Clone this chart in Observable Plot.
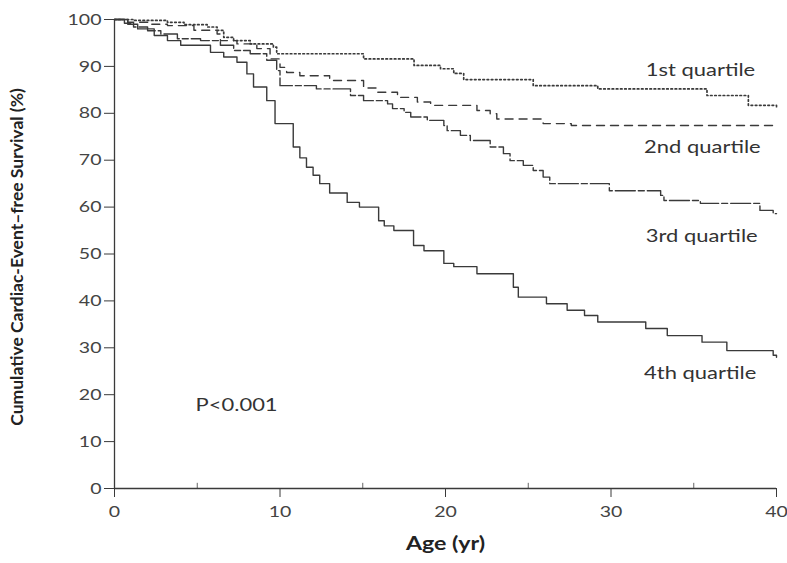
<!DOCTYPE html>
<html>
<head>
<meta charset="utf-8">
<script src="https://cdn.jsdelivr.net/npm/d3@7"></script>
<script src="https://cdn.jsdelivr.net/npm/@observablehq/plot@0.6"></script>
<style>
  html, body { margin: 0; padding: 0; background: #fff; }
  #chart svg { font-family: Lato, "Open Sans", sans-serif; }
</style>
</head>
<body>
<div id="chart"></div>
<script>
// Kaplan–Meier step points: [age (yr), cumulative survival (%)]
const q1 = [[0,100],[1.15,99.8],[3.2,99.4],[4.2,98.9],[5.6,98.4],[6.2,97.7],[6.6,96.2],[7.2,95.5],[8.2,94.8],[9.6,94.1],[9.8,92.7],[15.05,91.6],[18.1,90.2],[19.7,89.5],[20.5,88.5],[21.1,87.2],[25.3,85.9],[29.2,85.2],[35.8,83.8],[38.3,81.7],[40,81.4]];
const q2 = [[0,100],[0.8,99.4],[2.0,99.0],[3.2,98.7],[4.8,97.7],[6.2,96.9],[6.4,95.5],[7.4,94.8],[8.6,93.8],[9.4,91.6],[10.0,89.8],[10.4,88.7],[11.2,88.0],[13.0,87.0],[15.05,85.4],[15.8,84.5],[17.1,83.4],[18.3,82.4],[19.1,81.7],[21.9,80.6],[22.7,79.9],[23.1,78.8],[25.9,77.8],[27.6,77.4],[40,77.4]];
const q3 = [[0,100],[0.6,99.2],[1.15,98.4],[2.0,97.6],[2.8,96.9],[3.8,95.9],[5.2,95.5],[6.4,94.5],[7.2,93.4],[8.2,92.7],[9.2,91.3],[9.8,89.1],[10.0,85.9],[12.2,85.2],[14.26,83.8],[15.05,82.7],[16.5,82.0],[16.8,81.0],[17.5,80.2],[17.9,79.2],[18.9,78.5],[19.9,77.4],[20.1,76.3],[20.9,75.3],[21.5,74.2],[22.7,72.8],[23.5,71.4],[23.9,69.9],[24.7,68.9],[25.3,67.8],[25.9,66.4],[26.3,65.0],[29.9,63.5],[33.0,62.5],[33.2,61.4],[35.4,60.8],[39.0,59.3],[39.8,58.6],[40,58.6]];
const q4 = [[0,100],[0.8,99],[1.4,98],[2.4,96.6],[3.2,95.5],[4.0,94.5],[5.8,93],[6.6,92],[7.4,90.9],[8.0,88.4],[8.4,85.6],[9.2,82.7],[9.7,77.8],[10.8,72.8],[11.2,70.5],[11.6,68.5],[12.0,66.8],[12.4,65],[13.0,63],[14.06,61],[14.8,60],[15.96,57.1],[16.3,56],[16.88,55],[18.07,51.8],[18.7,50.7],[19.9,48],[20.5,47.3],[21.9,45.8],[24.1,42.9],[24.4,40.8],[26.1,39.4],[27.35,38],[28.4,36.9],[29.2,35.5],[32.1,34.1],[33.4,32.6],[35.5,31.2],[37.0,29.4],[39.8,28.4],[40,28.0]];

const seriesNames = ["1st quartile", "2nd quartile", "3rd quartile", "4th quartile"];
const xTicks = [0, 10, 20, 30, 40];
const xMinorTicks = [5, 15, 25, 35];
const yTicks = [0, 10, 20, 30, 40, 50, 60, 70, 80, 90, 100];
const pValue = "P<0.001";
const xLabel = "Age (yr)";
const yLabel = "Cumulative Cardiac-Event\u2013free Survival (%)";

const toRows = (arr) => arr.map(([age, s]) => ({age, s}));
const ink = "#3a3a3a";
const dashes = ["1.6,2.6", "8,6", "20,3,6,3", null];
const all = [q1, q2, q3, q4];

// label anchor positions (data units)
const labelPos = [[32.1, 89.1], [32.0, 72.7], [32.1, 53.7], [32.0, 24.5]];
const labelRows = seriesNames.map((n, i) => ({name: n, x: labelPos[i][0], y: labelPos[i][1]}));

const chart = Plot.plot({
  width: 787,
  height: 563,
  marginLeft: 114,
  marginRight: 11,
  marginTop: 19,
  marginBottom: 75,
  style: {fontFamily: "Lato, 'Open Sans', sans-serif", fontSize: "16px", color: "#444", background: "#fff"},
  x: {domain: [0, 40]},
  y: {domain: [0, 100]},
  marks: [
    Plot.axisX({ticks: xTicks, tickSize: 9, tickPadding: 8, tickFormat: d => String(d), label: null, stroke: ink, fontSize: 16}),
    Plot.ruleX(xMinorTicks, {x: d => d, y1: 0, y2: 1.1, stroke: "#666", strokeWidth: 1}),
    Plot.axisY({ticks: yTicks, tickSize: 10, tickPadding: 3, label: null, stroke: ink, fontSize: 16}),
    Plot.ruleY([0], {x1: 0, x2: 40, stroke: ink, strokeWidth: 1.3}),
    Plot.ruleX([0], {y1: 0, y2: 100, stroke: ink, strokeWidth: 1.3}),
    ...all.map((q, i) => Plot.line(toRows(q), {
      x: "age", y: "s", curve: "step-after",
      stroke: ink, strokeWidth: i === 0 ? 1.7 : 1.4,
      strokeDasharray: dashes[i] ?? undefined
    })),
    Plot.text(labelRows, {x: "x", y: "y", text: "name", textAnchor: "start", fontSize: 18, fill: "#333"}),
    Plot.text([pValue], {x: 4.9, y: 17.7, text: d => d, textAnchor: "start", fontSize: 18, fill: "#333"}),
    Plot.text([xLabel], {frameAnchor: "bottom", dy: 61, text: d => d, fontSize: 19, fontWeight: 700, fill: "#222"}),
    Plot.text([yLabel], {frameAnchor: "left", textAnchor: "middle", dx: -97, dy: 3, rotate: -90, text: d => d, fontSize: 17.5, fontWeight: 700, fill: "#222", className: "ylab"})
  ]
});
document.getElementById("chart").appendChild(chart);

// The reference's horizontal lettering is drawn wide: stretch horizontal text about its anchor.
const stretch = 1.22;
d3.select(chart).selectAll("text").each(function() {
  if (this.closest(".ylab") || /rotate/.test(this.getAttribute("transform") || "")) return;
  const t = this.getAttribute("transform") || "";
  const xa = this.getAttribute("x");
  let extra = "";
  if (xa !== null && !isNaN(+xa) && +xa !== 0) { extra = `translate(${+xa},0) `; this.setAttribute("x", 0); }
  this.setAttribute("transform", `${t} ${extra}scale(${stretch},1)`.trim());
});
</script>
</body>
</html>
